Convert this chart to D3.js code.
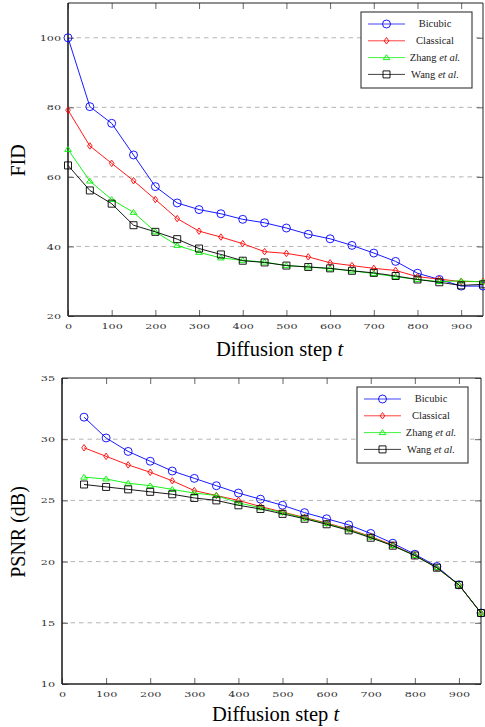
<!DOCTYPE html>
<html>
<head>
<meta charset="utf-8">
<script src="https://cdn.jsdelivr.net/npm/d3@7"></script>
<style>
  body { margin: 0; background: #fff; }
  svg { display: block; }
</style>
</head>
<body>
<div id="viz"></div>
<script>
// data
let fidSteps = [0, 50, 100, 150, 200, 250, 300, 350, 400, 450, 500, 550, 600, 650, 700, 750, 800, 850, 900, 950];
let fidBicubic   = [100, 80.2, 75.4, 66.3, 57.2, 52.5, 50.6, 49.4, 47.8, 46.8, 45.3, 43.5, 42.2, 40.3, 38.1, 35.7, 32.3, 30.5, 28.6, 28.6];
let fidClassical = [79.2, 68.9, 63.9, 58.9, 53.5, 48.0, 44.4, 42.7, 40.8, 38.5, 38.0, 37.0, 35.3, 34.5, 33.7, 33.1, 31.3, 30.6, 29.9, 29.9];
let fidZhang     = [67.9, 58.8, 53.5, 49.8, 44.2, 40.3, 38.3, 36.7, 36.0, 35.5, 34.5, 34.1, 33.6, 33.0, 32.2, 31.3, 30.5, 29.9, 30.1, 29.8];
let fidWang      = [63.3, 56.1, 52.3, 46.1, 44.2, 42.1, 39.4, 37.7, 35.9, 35.4, 34.5, 34.1, 33.7, 33.0, 32.4, 31.5, 30.5, 29.7, 28.8, 29.1];

let psnrSteps = [50, 100, 150, 200, 250, 300, 350, 400, 450, 500, 550, 600, 650, 700, 750, 800, 850, 900, 950];
let psnrBicubic   = [31.8, 30.1, 29.0, 28.2, 27.4, 26.8, 26.2, 25.6, 25.1, 24.6, 24.0, 23.5, 23.0, 22.3, 21.5, 20.6, 19.6, 18.1, 15.8];
let psnrClassical = [29.3, 28.6, 27.9, 27.3, 26.6, 25.8, 25.4, 25.0, 24.5, 24.05, 23.6, 23.15, 22.65, 22.05, 21.35, 20.5, 19.5, 18.1, 15.8];
let psnrZhang     = [26.9, 26.75, 26.4, 26.2, 25.9, 25.6, 25.4, 24.8, 24.4, 24.0, 23.55, 23.1, 22.6, 22.0, 21.3, 20.5, 19.5, 18.1, 15.8];
let psnrWang      = [26.3, 26.1, 25.9, 25.7, 25.5, 25.2, 25.0, 24.6, 24.3, 23.9, 23.5, 23.05, 22.55, 21.95, 21.3, 20.5, 19.5, 18.1, 15.8];

let xTicks = [0, 100, 200, 300, 400, 500, 600, 700, 800, 900];
let fidTicks = [20, 40, 60, 80, 100];
let psnrTicks = [10, 15, 20, 25, 30, 35];

let methods = ["Bicubic", "Classical", "Zhang", "Wang"];
let colors = ["#0000ff", "#ff0000", "#00f000", "#000000"];

let width = 485, height = 727;
let serif = "'Liberation Serif', 'Times New Roman', Times, 'DejaVu Serif', serif";

// narrow diamond like pgfplots "diamond"
const diamond = {
  draw(ctx, size) {
    const ry = Math.sqrt(size) * 0.95, rx = ry * 0.72;
    ctx.moveTo(0, -ry); ctx.lineTo(rx, 0); ctx.lineTo(0, ry); ctx.lineTo(-rx, 0); ctx.closePath();
  }
};
const triangle = {
  draw(ctx, size) {
    const s = Math.sqrt(size);
    ctx.moveTo(0, -s * 0.65); ctx.lineTo(s * 0.75, s * 0.45); ctx.lineTo(-s * 0.75, s * 0.45); ctx.closePath();
  }
};
let shapes = [
  d3.symbol(d3.symbolCircle, 50),
  d3.symbol(diamond, 11.5),
  d3.symbol(triangle, 20),
  d3.symbol(d3.symbolSquare, 49)
];

let svg = d3.select("#viz").append("svg")
  .attr("width", width).attr("height", height);

function stretchLabels(g, k) {
  g.selectAll(".tick text").each(function() {
    const t = d3.select(this);
    const x = +t.attr("x") || 0;
    t.attr("x", x / k).attr("transform", `scale(${k},1)`);
  });
}

function panel(opts) {
  const {left, right, top, bottom, steps, series, yDomain, yTicks, yLabel, legendPos, labelY} = opts;
  const x = d3.scaleLinear().domain([0, 950]).range([left, right]);
  const y = d3.scaleLinear().domain(yDomain).range([bottom, top]);
  const g = svg.append("g");

  // dashed grid
  g.append("g").selectAll("line")
    .data(yTicks.filter(v => v > yDomain[0] && v < yDomain[1]))
    .join("line")
    .attr("x1", left).attr("x2", right)
    .attr("y1", d => y(d)).attr("y2", d => y(d))
    .attr("stroke", "#b4b4b4").attr("stroke-dasharray", "4.5,4").attr("stroke-width", 1);

  const axFont = g => {
    g.select(".domain").remove();
    g.selectAll(".tick line").attr("stroke", "#555").attr("stroke-width", 0.9);
    g.selectAll(".tick text")
      .attr("font-family", "'DejaVu Serif', serif").attr("font-size", 8).attr("fill", "#333");
  };

  g.append("g").attr("transform", `translate(0,${bottom})`)
    .call(d3.axisBottom(x).tickValues(xTicks).tickSizeInner(-6).tickSizeOuter(0).tickPadding(7))
    .call(axFont).call(s => stretchLabels(s, 1.4));
  g.append("g").attr("transform", `translate(0,${top})`)
    .call(d3.axisTop(x).tickValues(xTicks).tickSizeInner(-6).tickSizeOuter(0).tickFormat(""))
    .call(axFont);
  g.append("g").attr("transform", `translate(${left},0)`)
    .call(d3.axisLeft(y).tickValues(yTicks).tickSizeInner(-6).tickSizeOuter(0).tickPadding(7))
    .call(axFont).call(s => stretchLabels(s, 1.4));
  g.append("g").attr("transform", `translate(${right},0)`)
    .call(d3.axisRight(y).tickValues(yTicks).tickSizeInner(-6).tickSizeOuter(0).tickFormat(""))
    .call(axFont);

  // frame
  g.append("line").attr("x1", left).attr("x2", right).attr("y1", top).attr("y2", top)
    .attr("stroke", "#222").attr("stroke-width", 1);
  g.append("line").attr("x1", right).attr("x2", right).attr("y1", top).attr("y2", bottom)
    .attr("stroke", "#222").attr("stroke-width", 1);
  g.append("line").attr("x1", left).attr("x2", right).attr("y1", bottom).attr("y2", bottom)
    .attr("stroke", "#222").attr("stroke-width", 1.6);
  g.append("line").attr("x1", left).attr("x2", left).attr("y1", top).attr("y2", bottom)
    .attr("stroke", "#222").attr("stroke-width", 1.6);

  // series
  const line = d3.line().x(d => x(d[0])).y(d => y(d[1]));
  series.forEach((vals, i) => {
    const pts = steps.map((s, j) => [s, vals[j]]);
    g.append("path").datum(pts).attr("d", line)
      .attr("fill", "none").attr("stroke", colors[i]).attr("stroke-width", 0.9);
    g.append("g").selectAll("path").data(pts).join("path")
      .attr("transform", d => `translate(${x(d[0])},${y(d[1])})`)
      .attr("d", shapes[i]())
      .attr("fill", "none").attr("stroke", colors[i]).attr("stroke-width", 0.9);
  });

  // axis titles
  g.append("text").attr("x", (left + right) / 2 + 4).attr("y", labelY)
    .attr("text-anchor", "middle").attr("font-family", serif).attr("font-size", 20.5)
    .text("Diffusion step ")
    .append("tspan").attr("font-style", "italic").text("t");
  g.append("text")
    .attr("transform", `translate(25,${(top + bottom) / 2 + 1}) rotate(-90)`)
    .attr("text-anchor", "middle").attr("font-family", serif).attr("font-size", 20)
    .text(yLabel);

  // legend
  const [lx, ly] = legendPos;
  const leg = g.append("g").attr("transform", `translate(${lx},${ly})`);
  leg.append("rect").attr("width", 111).attr("height", 76)
    .attr("fill", "#fff").attr("stroke", "#333").attr("stroke-width", 1.1);
  methods.forEach((m, i) => {
    const ry = 12 + i * 16.8;
    leg.append("line").attr("x1", 7).attr("x2", 44).attr("y1", ry).attr("y2", ry)
      .attr("stroke", colors[i]).attr("stroke-width", 1).attr("stroke-opacity", 0.75);
    leg.append("path").attr("transform", `translate(25.5,${ry})`).attr("d", shapes[i]())
      .attr("fill", "none").attr("stroke", colors[i]).attr("stroke-width", 0.9);
    const t = leg.append("text").attr("x", 74).attr("y", ry + 3.3)
      .attr("text-anchor", "middle").attr("font-family", serif)
      .attr("font-size", 10.5).attr("fill", "#222");
    if (i < 2) {
      t.text(m);
    } else {
      t.text(m + " ");
      t.append("tspan").attr("font-style", "italic").text("et al.");
    }
  });
}

panel({
  left: 68, right: 483, top: 3, bottom: 316,
  steps: fidSteps, series: [fidBicubic, fidClassical, fidZhang, fidWang],
  yDomain: [20, 110], yTicks: fidTicks, yLabel: "FID",
  legendPos: [361, 12], labelY: 356
});

panel({
  left: 62, right: 481, top: 378, bottom: 684,
  steps: psnrSteps, series: [psnrBicubic, psnrClassical, psnrZhang, psnrWang],
  yDomain: [10, 35], yTicks: psnrTicks, yLabel: "PSNR (dB)",
  legendPos: [357, 387], labelY: 721
});
</script>
</body>
</html>
